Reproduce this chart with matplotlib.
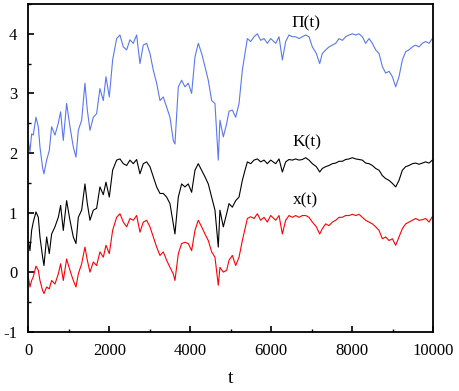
import matplotlib
matplotlib.use("Agg")
import matplotlib.pyplot as plt
from matplotlib.ticker import MultipleLocator

t = [0, 41, 82, 123, 189, 247, 288, 354, 387, 453, 518, 576, 658, 741, 798, 864,
     946, 1029, 1111, 1177, 1235, 1317, 1399, 1457, 1523, 1605, 1687, 1769, 1852,
     1918, 2000, 2082, 2181, 2263, 2346, 2428, 2510, 2592, 2675, 2757, 2839, 2922,
     3004, 3086, 3169, 3251, 3333, 3415, 3498, 3580, 3621, 3704, 3786, 3868, 3950,
     4033, 4115, 4197, 4280, 4362, 4444, 4527, 4609, 4691, 4732, 4815, 4897,
     4956, 5038, 5121, 5203, 5285, 5351, 5409, 5491, 5573, 5656, 5738, 5820, 5902,
     5985, 6108, 6191, 6273, 6355, 6437, 6520, 6602, 6684, 6767, 6849, 6931, 7014,
     7112, 7195, 7260, 7343, 7425, 7507, 7590, 7672, 7754, 7836, 7919, 8001, 8083,
     8166, 8248, 8330, 8413, 8495, 8577, 8660, 8742, 8824, 8906, 8989, 9071, 9153,
     9236, 9318, 9400, 9483, 9565, 9647, 9729, 9812, 9894, 9976]

pi_t = [2.2, 2.02, 2.32, 2.3, 2.6, 2.44, 2.1, 1.75, 1.65, 1.88, 2.04, 2.44, 2.3, 2.5,
        2.69, 2.21, 2.83, 2.44, 2.1, 1.93, 2.38, 2.55, 3.17, 2.72, 2.38, 2.6, 2.66,
        3.08, 2.88, 3.28, 2.94, 3.56, 3.92, 3.98, 3.78, 3.73, 3.9, 3.84, 3.98, 3.5,
        3.81, 3.84, 3.67, 3.39, 3.17, 2.88, 2.94, 2.77, 2.6, 2.21, 2.15, 3.11, 3.22,
        3.11, 3.17, 3.0, 3.61, 3.84, 3.67, 3.45, 3.22, 2.88, 2.83, 1.88, 2.55, 2.27,
        2.49,
        2.7, 2.72, 2.6, 2.83, 3.39, 3.67, 3.92, 3.87, 3.95, 4.0, 3.89, 3.92, 3.84,
        3.92, 3.84, 3.95, 3.56, 3.87, 3.98, 3.95, 3.95, 3.92, 3.95, 3.98, 3.95, 3.78,
        3.67, 3.5, 3.67, 3.73, 3.78, 3.81, 3.84, 3.92, 3.89, 3.95, 3.98, 4.0, 3.98,
        4.0, 3.95, 3.84, 3.92, 3.84, 3.73, 3.67, 3.45, 3.34, 3.37, 3.28, 3.11, 3.28,
        3.56, 3.7, 3.73, 3.78, 3.81, 3.78, 3.84, 3.87, 3.84, 3.92]

k_t = [0.53, 0.36, 0.7, 0.84, 1.01, 0.92, 0.59, 0.25, 0.11, 0.59, 0.31, 0.64, 0.76,
       0.92, 1.12, 0.7, 1.2, 0.87, 0.59, 0.48, 0.92, 1.04, 1.48, 1.15, 0.87, 1.04,
       1.07, 1.43, 1.3, 1.51, 1.26, 1.71, 1.88, 1.9, 1.82, 1.79, 1.88, 1.82, 1.89,
       1.65, 1.82, 1.85, 1.77, 1.6, 1.43, 1.32, 1.32, 1.26, 1.15, 0.81, 0.64, 1.26,
       1.48, 1.43, 1.48, 1.34, 1.71, 1.82, 1.71, 1.6, 1.48, 1.26, 1.04, 0.42, 1.04,
       0.76, 0.98,
       1.15, 1.09, 1.2, 1.26, 1.54, 1.71, 1.85, 1.82, 1.88, 1.9, 1.85, 1.88, 1.82,
       1.88, 1.82, 1.9, 1.68, 1.85, 1.89, 1.88, 1.9, 1.88, 1.89, 1.92, 1.88, 1.82,
       1.77, 1.68, 1.74, 1.77, 1.79, 1.82, 1.83, 1.86, 1.86, 1.89, 1.9, 1.92, 1.9,
       1.89, 1.88, 1.83, 1.82, 1.79, 1.74, 1.71, 1.62, 1.57, 1.54, 1.49, 1.43, 1.54,
       1.71, 1.77, 1.79, 1.82, 1.83, 1.81, 1.83, 1.85, 1.83, 1.88]

x_t = [-0.08, -0.25, -0.14, -0.08, 0.1, 0.03, -0.14, -0.31, -0.36, -0.25, -0.28,
       -0.14, -0.2, -0.03, 0.14, -0.14, 0.22, 0.03, -0.14, -0.25, -0.03, 0.14, 0.42,
       0.2, 0.0, 0.17, 0.11, 0.34, 0.25, 0.45, 0.31, 0.7, 0.92, 0.98, 0.84, 0.76,
       0.9, 0.87, 0.95, 0.67, 0.84, 0.87, 0.76, 0.59, 0.42, 0.28, 0.34, 0.2, 0.08,
       -0.03, -0.14, 0.31, 0.48, 0.5, 0.48, 0.36, 0.7, 0.87, 0.76, 0.64, 0.53, 0.34,
       0.25, -0.22, 0.08, 0.0, 0.03,
       0.2, 0.28, 0.11, 0.25, 0.53, 0.73, 0.9, 0.93, 0.9, 0.98, 0.87, 0.92, 0.84,
       0.95, 0.87, 0.95, 0.64, 0.87, 0.95, 0.92, 0.95, 0.92, 0.95, 0.95, 0.92, 0.84,
       0.76, 0.64, 0.73, 0.81, 0.78, 0.84, 0.87, 0.92, 0.92, 0.95, 0.95, 0.97, 0.95,
       0.97, 0.92, 0.87, 0.84, 0.81, 0.76, 0.7, 0.56, 0.59, 0.53, 0.56, 0.45, 0.59,
       0.73, 0.81, 0.84, 0.87, 0.9, 0.87, 0.88, 0.9, 0.84, 0.93]

labels = ["\u03a0(t)", "K(t)", "x(t)"]
label_pos = [(6850, 4.18), (6880, 2.18), (6850, 1.2)]

plt.rcParams['font.family'] = ['Liberation Serif', 'DejaVu Serif']

fig = plt.figure(figsize=(4.59, 3.91), dpi=100)
ax = fig.add_axes([28.3 / 459, 1 - 331.7 / 391, 405 / 459, 327.7 / 391])

ax.plot(t, pi_t, color='#5a78f0', lw=0.8)
ax.plot(t, k_t, color='black', lw=0.8)
ax.plot(t, x_t, color='#ff0000', lw=0.8)

for lab, (lx, ly) in zip(labels, label_pos):
    ax.text(lx, ly, lab, fontsize=12.5, ha='center', va='center')

ax.set_xlim(0, 10000)
ax.set_ylim(-1, 4.5)
ax.xaxis.set_major_locator(MultipleLocator(2000))
ax.xaxis.set_minor_locator(MultipleLocator(1000))
ax.yaxis.set_major_locator(MultipleLocator(1))
ax.yaxis.set_minor_locator(MultipleLocator(0.5))
ax.tick_params(which='both', direction='in', top=False, right=False, labelsize=12)
ax.tick_params(which='major', length=4, width=1.2, pad=8)
ax.tick_params(which='minor', length=2.5, width=1.0)
ax.set_yticks([-1, 0, 1, 2, 3, 4])
ax.set_yticklabels(['-1', '0', '1', '2', '3', '4'])
for s in ax.spines.values():
    s.set_linewidth(1.3)
ax.set_xlabel('t', fontsize=14, labelpad=8)

fig.savefig('out.png', dpi=100)
